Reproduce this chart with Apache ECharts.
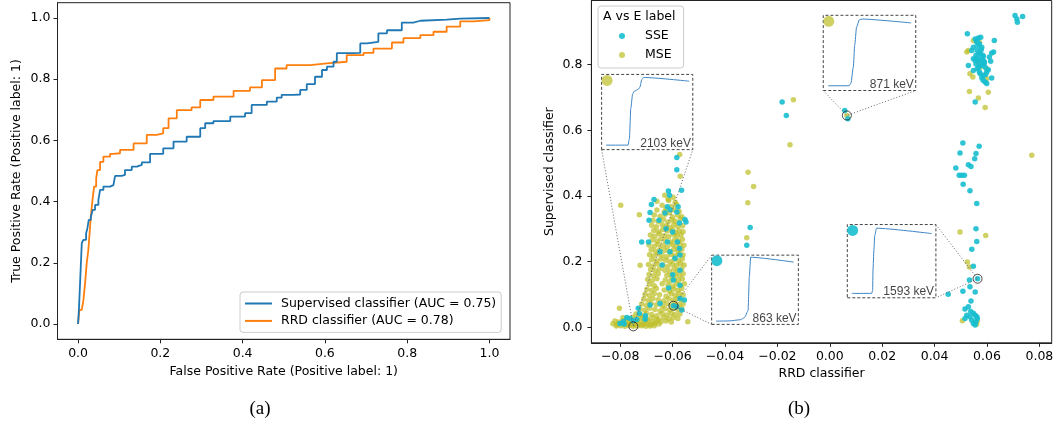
<!DOCTYPE html>
<html><head><meta charset="utf-8">
<script src="https://cdn.jsdelivr.net/npm/echarts@6/dist/echarts.min.js"></script>
<style>html,body{margin:0;padding:0;background:#fff}#c{width:1057px;height:425px}</style>
</head><body><div id="c"></div>
<script>
// ---------- (a) ROC curves: [false positive rate, true positive rate] ----------
const supervisedRoc = [[0,0],[0.0008,0.002],[0.0024,0.057],[0.004,0.06],[0.005,0.138],[0.007,0.14],[0.009,0.264],[0.013,0.275],[0.0195,0.296],[0.0227,0.313],[0.026,0.34],[0.031,0.35],[0.0357,0.373],[0.0413,0.389],[0.0494,0.405],[0.0535,0.438],[0.0616,0.449],[0.0778,0.454],[0.0859,0.46],[0.09,0.484],[0.106,0.487],[0.114,0.503],[0.1305,0.514],[0.143,0.52],[0.155,0.528],[0.175,0.556],[0.207,0.574],[0.232,0.596],[0.264,0.612],[0.297,0.640],[0.309,0.656],[0.329,0.663],[0.370,0.678],[0.406,0.689],[0.422,0.716],[0.459,0.727],[0.483,0.740],[0.495,0.749],[0.524,0.750],[0.540,0.765],[0.556,0.784],[0.576,0.808],[0.593,0.830],[0.605,0.841],[0.621,0.857],[0.629,0.885],[0.665,0.886],[0.686,0.917],[0.702,0.922],[0.730,0.950],[0.751,0.960],[0.787,0.985],[0.815,0.991],[0.832,0.995],[0.896,0.998],[0.929,1.0],[1.0,1.0]];
const rrdRoc = [[0,0],[0.0008,0.002],[0.0032,0.046],[0.009,0.05],[0.013,0.078],[0.017,0.133],[0.021,0.198],[0.025,0.242],[0.028,0.296],[0.031,0.351],[0.035,0.405],[0.039,0.449],[0.044,0.476],[0.047,0.503],[0.0535,0.530],[0.0616,0.547],[0.078,0.556],[0.086,0.558],[0.102,0.569],[0.135,0.590],[0.167,0.618],[0.191,0.623],[0.207,0.640],[0.220,0.672],[0.240,0.699],[0.276,0.708],[0.297,0.732],[0.329,0.743],[0.378,0.762],[0.418,0.773],[0.447,0.797],[0.479,0.835],[0.507,0.846],[0.564,0.852],[0.605,0.857],[0.653,0.879],[0.694,0.886],[0.718,0.900],[0.763,0.920],[0.791,0.934],[0.832,0.944],[0.864,0.955],[0.896,0.972],[0.929,0.989],[0.961,0.993],[1.0,1.0]];
const rocNames = ['Supervised classifier (AUC = 0.75)', 'RRD classifier (AUC = 0.78)'];
const rocTicks = [0, 0.2, 0.4, 0.6, 0.8, 1.0];

// ---------- (b) scatter: [RRD classifier, Supervised classifier] ----------
const mseEvents = [
[-0.0630,0.402],[-0.0598,0.396],[-0.0615,0.386],[-0.0590,0.381],[-0.0660,0.384],
[-0.0640,0.372],[-0.0605,0.368],[-0.0585,0.374],[-0.0625,0.362],
[-0.0660,0.357],[-0.0632,0.352],[-0.0612,0.349],[-0.0595,0.358],[-0.0575,0.353],
[-0.0670,0.342],[-0.0648,0.338],[-0.0628,0.344],[-0.0600,0.336],[-0.0580,0.341],[-0.0565,0.337],
[-0.0675,0.326],[-0.0655,0.322],[-0.0635,0.329],[-0.0618,0.320],[-0.0603,0.327],[-0.0590,0.323],[-0.0570,0.330],
[-0.0680,0.311],[-0.0662,0.306],[-0.0640,0.313],[-0.0625,0.308],[-0.0610,0.304],[-0.0595,0.312],[-0.0580,0.307],[-0.0562,0.309],
[-0.0672,0.295],[-0.0655,0.291],[-0.0638,0.298],[-0.0620,0.293],[-0.0600,0.297],[-0.0588,0.289],[-0.0575,0.294],[-0.0560,0.291],
[-0.0685,0.281],[-0.0668,0.277],[-0.0650,0.284],[-0.0632,0.279],[-0.0615,0.276],[-0.0597,0.283],[-0.0583,0.278],[-0.0568,0.282],
[-0.0678,0.266],[-0.0660,0.262],[-0.0645,0.269],[-0.0628,0.264],[-0.0608,0.260],[-0.0592,0.267],[-0.0578,0.263],[-0.0563,0.268],
[-0.0690,0.251],[-0.0670,0.247],[-0.0655,0.253],[-0.0636,0.249],[-0.0620,0.245],[-0.0602,0.252],[-0.0587,0.248],[-0.0572,0.254],[-0.0557,0.250],
[-0.0682,0.236],[-0.0665,0.232],[-0.0648,0.238],[-0.0630,0.234],[-0.0612,0.230],[-0.0596,0.237],[-0.0580,0.233],[-0.0565,0.238],
[-0.0688,0.221],[-0.0672,0.217],[-0.0656,0.223],[-0.0640,0.219],[-0.0622,0.215],[-0.0605,0.222],[-0.0590,0.218],[-0.0575,0.224],[-0.0560,0.220],
[-0.0680,0.206],[-0.0662,0.202],[-0.0645,0.208],[-0.0627,0.204],[-0.0610,0.200],[-0.0594,0.207],[-0.0578,0.203],[-0.0563,0.208],
[-0.0692,0.191],[-0.0674,0.187],[-0.0658,0.193],[-0.0637,0.189],[-0.0618,0.185],[-0.0600,0.192],[-0.0585,0.188],[-0.0570,0.194],[-0.0556,0.190],
[-0.0684,0.176],[-0.0667,0.172],[-0.0650,0.178],[-0.0630,0.174],[-0.0612,0.170],[-0.0595,0.177],[-0.0580,0.173],[-0.0565,0.178],
[-0.0690,0.161],[-0.0672,0.157],[-0.0655,0.163],[-0.0622,0.159],[-0.0605,0.155],[-0.0590,0.162],[-0.0575,0.158],[-0.0560,0.163],
[-0.0695,0.146],[-0.0678,0.142],[-0.0660,0.148],[-0.0628,0.144],[-0.0610,0.140],[-0.0593,0.147],[-0.0578,0.143],[-0.0563,0.148],
[-0.0688,0.131],[-0.0670,0.127],[-0.0640,0.133],[-0.0618,0.129],[-0.0600,0.125],[-0.0585,0.132],[-0.0570,0.128],[-0.0555,0.133],
[-0.0698,0.116],[-0.0680,0.112],[-0.0662,0.118],[-0.0632,0.114],[-0.0612,0.110],[-0.0596,0.117],[-0.0580,0.113],[-0.0565,0.118],
[-0.0705,0.101],[-0.0688,0.097],[-0.0670,0.103],[-0.0650,0.099],[-0.0625,0.095],[-0.0605,0.102],[-0.0590,0.098],[-0.0575,0.103],[-0.0560,0.099],
[-0.0710,0.086],[-0.0692,0.082],[-0.0675,0.088],[-0.0655,0.084],[-0.0635,0.080],[-0.0615,0.087],[-0.0598,0.083],[-0.0582,0.088],[-0.0567,0.084],
[-0.0718,0.071],[-0.0700,0.067],[-0.0682,0.073],[-0.0662,0.069],[-0.0640,0.065],[-0.0622,0.072],[-0.0605,0.068],[-0.0590,0.073],[-0.0575,0.069],[-0.0560,0.071],
[-0.0725,0.056],[-0.0706,0.052],[-0.0688,0.058],[-0.0668,0.054],[-0.0648,0.050],[-0.0630,0.057],[-0.0612,0.053],[-0.0596,0.058],[-0.0580,0.054],[-0.0565,0.057],
[-0.0740,0.041],[-0.0720,0.037],[-0.0700,0.043],[-0.0680,0.039],[-0.0660,0.035],[-0.0640,0.042],[-0.0622,0.038],[-0.0605,0.043],[-0.0590,0.039],[-0.0572,0.041],
[-0.0790,0.029],[-0.0770,0.026],[-0.0752,0.031],[-0.0735,0.027],[-0.0715,0.030],[-0.0695,0.026],[-0.0675,0.029],[-0.0655,0.025],[-0.0635,0.030],[-0.0615,0.026],[-0.0598,0.029],[-0.0580,0.027],
[-0.0820,0.019],[-0.0805,0.016],[-0.0788,0.020],[-0.0772,0.017],[-0.0756,0.019],[-0.0740,0.016],[-0.0724,0.020],[-0.0708,0.017],[-0.0692,0.019],[-0.0676,0.016],[-0.0660,0.020],[-0.0644,0.017],[-0.0625,0.019],[-0.0605,0.016],
[-0.0828,0.011],[-0.0812,0.009],[-0.0796,0.012],[-0.0780,0.010],[-0.0764,0.011],[-0.0748,0.008],[-0.0732,0.012],[-0.0716,0.009],[-0.0700,0.011],[-0.0684,0.008],[-0.0668,0.012],[-0.0652,0.010],
[-0.0815,0.004],[-0.0798,0.005],[-0.0782,0.003],[-0.0766,0.005],[-0.0750,0.003],[-0.0734,0.004],[-0.0718,0.005],[-0.0702,0.003],[-0.0686,0.004],[-0.0670,0.005],
[-0.0798,0.372],[-0.0727,0.343],[-0.0724,0.189],[-0.0803,0.058],[-0.0542,0.017],[-0.0573,0.526],[-0.0571,0.460],[-0.0617,0.390],
[-0.0139,0.693],[-0.0152,0.556],[-0.0312,0.472],[-0.0291,0.429],[-0.0313,0.379],[-0.0317,0.273],[0.0065,0.645],
[0.0548,0.873],[0.0529,0.843],[0.0523,0.838],[0.0571,0.868],[0.0567,0.807],[0.0574,0.792],[0.0599,0.787],[0.0535,0.772],[0.0546,0.762],[0.0599,0.757],[0.0605,0.716],[0.0567,0.698],[0.0593,0.669],[0.0533,0.718],
[0.0771,0.524],[0.0497,0.290],[0.0595,0.280],[0.0525,0.199],[0.0533,0.184],[0.0506,0.020],[0.0563,0.020],[0.0561,0.010]
];
const sseEvents = [
[-0.0616,0.415],[-0.0612,0.402],[-0.0671,0.389],[-0.0681,0.374],[-0.0620,0.367],[-0.0610,0.358],[-0.0579,0.367],[-0.0686,0.350],[-0.0690,0.326],[-0.0652,0.326],[-0.0629,0.348],[-0.0584,0.351],[-0.0553,0.328],[-0.0549,0.321],[-0.0574,0.318],[-0.0718,0.260],[-0.0692,0.260],[-0.0620,0.260],[-0.0610,0.230],[-0.0648,0.230],[-0.0582,0.260],[-0.0574,0.240],[-0.0572,0.220],[-0.0591,0.210],[-0.0572,0.174],[-0.0597,0.144],[-0.0572,0.128],[-0.0572,0.088],[-0.0555,0.083],[-0.0648,0.073],[-0.0686,0.068],[-0.0731,0.058],[-0.0727,0.042],[-0.0704,0.035],[-0.0737,0.024],[-0.0762,0.027],[-0.0801,0.012],[-0.0584,0.063],[-0.0565,0.053],
[-0.0584,0.517],[-0.0584,0.480],[-0.0566,0.417],[-0.0788,0.018],[-0.0775,0.030],[-0.0750,0.020],[-0.0705,0.025],[-0.0785,0.010],[-0.0625,0.300],[-0.0600,0.290],[-0.0640,0.190],[-0.0600,0.160],[-0.0615,0.120],[-0.0597,0.066],
[-0.0182,0.686],[-0.0166,0.645],[-0.0304,0.304],[-0.0317,0.250],[0.0057,0.660],[0.0069,0.635],
[0.0707,0.949],[0.0714,0.939],[0.0736,0.946],[0.0716,0.929],[0.0525,0.894],[0.0628,0.873],
[0.0555,0.878],[0.0567,0.881],[0.0576,0.883],[0.0561,0.868],[0.0571,0.863],[0.0548,0.853],[0.0580,0.853],[0.0563,0.843],[0.0542,0.843],[0.0574,0.833],[0.0558,0.828],[0.0586,0.825],[0.0618,0.835],[0.0625,0.838],[0.0609,0.823],[0.0548,0.818],[0.0567,0.812],[0.0586,0.812],[0.0614,0.810],[0.0558,0.802],[0.0529,0.797],[0.0580,0.797],[0.0593,0.792],[0.0563,0.787],[0.0548,0.782],[0.0599,0.777],[0.0574,0.772],[0.0586,0.767],[0.0580,0.760],[0.0618,0.759],[0.0593,0.747],[0.0599,0.742],[0.0571,0.777],[0.0561,0.873],[0.0555,0.812],[0.0574,0.818],[0.0589,0.804],[0.0605,0.784],[0.0555,0.686],
[0.0565,0.858],[0.0578,0.845],[0.0570,0.835],[0.0583,0.828],[0.0560,0.820],[0.0590,0.808],[0.0575,0.800],[0.0568,0.792],[0.0595,0.770],[0.0585,0.752],
[0.0508,0.561],[0.0570,0.551],[0.0497,0.531],[0.0558,0.529],[0.0553,0.513],[0.0481,0.485],[0.0529,0.495],[0.0539,0.490],[0.0494,0.463],[0.0504,0.463],[0.0514,0.463],[0.0509,0.436],[0.0535,0.416],[0.0561,0.377],[0.0558,0.300],[0.0561,0.261],[0.0542,0.238],[0.0548,0.186],[0.0533,0.144],[0.0508,0.110],[0.0535,0.124],[0.0555,0.108],[0.0452,0.101],[0.0539,0.080],[0.0516,0.056],[0.0529,0.063],[0.0538,0.048],[0.0523,0.037],[0.0548,0.043],[0.0555,0.037],[0.0561,0.032],[0.0516,0.027],[0.0542,0.022],[0.0558,0.017],[0.0548,0.012],[0.0535,0.032],[0.0555,0.007],[0.0563,0.027],[0.0564,0.148]
];
const classNames = ['SSE', 'MSE'];
const scatterXTicks = [-0.08, -0.06, -0.04, -0.02, 0, 0.02, 0.04, 0.06, 0.08];
const scatterYTicks = [0, 0.2, 0.4, 0.6, 0.8];

// ---------- insets: highlighted events and their waveforms ----------
const insetEvents = [[-0.0750, 0.003], [0.0065, 0.645], [-0.0597, 0.066], [0.0564, 0.148]];
const insetClasses = ['MSE', 'MSE', 'SSE', 'SSE'];
const insetLabels = ['2103 keV', '871 keV', '863 keV', '1593 keV'];
const waveTimes = [
  [5, 29, 30.5, 32, 34, 36, 40, 42, 44, 46, 96],
  [5.4, 28, 30, 32.5, 34, 36, 39, 42, 95],
  [5, 20, 33, 38, 42, 43.5, 45, 94.5],
  [5, 27.5, 28.6, 29, 30, 31, 33, 95]
];
const waveAmps = [
  [0.06, 0.06, 0.15, 0.55, 0.74, 0.78, 0.80, 0.83, 0.93, 0.96, 0.91],
  [0.063, 0.063, 0.10, 0.31, 0.60, 0.84, 0.94, 0.95, 0.898],
  [0.047, 0.05, 0.067, 0.10, 0.20, 0.70, 0.97, 0.90],
  [0.06, 0.06, 0.10, 0.38, 0.65, 0.85, 0.95, 0.877]
];
// layout of inset boxes in scatter-axis units [x0, x1, y0, y1]
const insetBoxes = [[-0.0871, -0.0523, 0.541, 0.770], [-0.0025, 0.0328, 0.721, 0.950], [-0.0451, -0.0120, 0.009, 0.2198], [0.00668, 0.0405, 0.090, 0.313]];
const insetLinks = [['bl', 'br'], ['bl', 'br'], ['tl', 'bl'], ['tr', 'br']];

const FONT = 'DejaVu Sans';
const TXT = { fontFamily: FONT, fontSize: 12.5, color: '#000' };
const COLORS = { SSE: '#17becf', MSE: '#bcbd22' };
const OPAC = { SSE: 0.9, MSE: 0.7 };

function fmtMinus(v) { return (v < -1e-9 ? '\u2212' : '') + Math.abs(v).toFixed(2); }

function axisCommon(extra) {
  return Object.assign({
    type: 'value', splitLine: { show: false },
    axisLine: { show: true, onZero: false, lineStyle: { color: '#222', width: 1 } },
    axisTick: { show: true, length: 4, lineStyle: { color: '#222' } },
    nameLocation: 'middle', nameTextStyle: TXT
  }, extra);
}

const chart = echarts.init(document.getElementById('c'), null, { renderer: 'canvas' });

const option = {
  animation: false,
  backgroundColor: '#fff',
  title: [
    { text: '(a)', left: 260, top: 400, textAlign: 'center', padding: 0, textStyle: { fontFamily: 'Liberation Serif', fontSize: 19, fontWeight: 'normal', color: '#000' } },
    { text: '(b)', left: 799, top: 400, textAlign: 'center', padding: 0, textStyle: { fontFamily: 'Liberation Serif', fontSize: 19, fontWeight: 'normal', color: '#000' } },
    { text: 'A vs E label', left: 603, top: 10, padding: 0, textStyle: { fontFamily: FONT, fontSize: 12.5, fontWeight: 'normal', color: '#000' } }
  ],
  legend: [
    { data: rocNames, orient: 'vertical', left: 240, top: 292, padding: [4, 5, 4, 5], itemGap: 2.4,
      icon: 'rect', itemWidth: 27, itemHeight: 2,
      textStyle: Object.assign({}, TXT, { lineHeight: 15, padding: [0, 0, 0, 4] }),
      borderColor: '#ccc', borderWidth: 1, borderRadius: 3, backgroundColor: 'rgba(255,255,255,0.85)' },
    { data: classNames, orient: 'vertical', left: 598, top: 6, padding: [22, 12, 5, 21], itemGap: 3,
      icon: 'circle', itemWidth: 6, itemHeight: 6,
      textStyle: Object.assign({}, TXT, { lineHeight: 16, padding: [0, 0, 0, 15] }),
      borderColor: '#ccc', borderWidth: 1, borderRadius: 3, backgroundColor: 'rgba(255,255,255,0.85)' }
  ],
  grid: [
    { left: 57.5, top: 2.7, width: 452.5, height: 336.6, show: true, borderColor: '#222', borderWidth: 1 },
    { left: 591.4, top: 0.5, width: 460.3, height: 342.3, show: true, borderColor: '#222', borderWidth: 1 }
  ],
  xAxis: [
    axisCommon({ gridIndex: 0, min: -0.05, max: 1.05, name: 'False Positive Rate (Positive label: 1)', nameGap: 25,
      axisTick: { show: true, length: 4, customValues: rocTicks, lineStyle: { color: '#222' } },
      axisLabel: Object.assign({ customValues: rocTicks, margin: 8, formatter: v => v.toFixed(1) }, TXT) }),
    axisCommon({ gridIndex: 1, min: -0.091, max: 0.0847, name: 'RRD classifier', nameGap: 24,
      axisTick: { show: true, length: 4, customValues: scatterXTicks, lineStyle: { color: '#222' } },
      axisLabel: Object.assign({ customValues: scatterXTicks, margin: 7, formatter: fmtMinus }, TXT) })
  ],
  yAxis: [
    axisCommon({ gridIndex: 0, min: -0.05, max: 1.05, name: 'True Positive Rate (Positive label: 1)', nameGap: 34,
      axisTick: { show: true, length: 4, customValues: rocTicks, lineStyle: { color: '#222' } },
      axisLabel: Object.assign({ customValues: rocTicks, margin: 7, formatter: v => v.toFixed(1) }, TXT) }),
    axisCommon({ gridIndex: 1, min: -0.047, max: 0.995, name: 'Supervised classifier', nameGap: 35,
      axisTick: { show: true, length: 4, customValues: scatterYTicks, lineStyle: { color: '#222' } },
      axisLabel: Object.assign({ customValues: scatterYTicks, margin: 9, formatter: v => v.toFixed(1) }, TXT) })
  ],
  series: [
    { name: rocNames[0], type: 'line', xAxisIndex: 0, yAxisIndex: 0, data: supervisedRoc, showSymbol: false, step: 'end',
      lineStyle: { color: '#1f77b4', width: 1.8 }, itemStyle: { color: '#1f77b4' }, z: 3 },
    { name: rocNames[1], type: 'line', xAxisIndex: 0, yAxisIndex: 0, data: rrdRoc, showSymbol: false, step: 'end',
      lineStyle: { color: '#ff7f0e', width: 1.8 }, itemStyle: { color: '#ff7f0e' }, z: 2 },
    { name: 'MSE', type: 'scatter', xAxisIndex: 1, yAxisIndex: 1, data: mseEvents, symbolSize: 5.5,
      itemStyle: { color: COLORS.MSE, opacity: OPAC.MSE }, z: 2 },
    { name: 'SSE', type: 'scatter', xAxisIndex: 1, yAxisIndex: 1, data: sseEvents, symbolSize: 5.5,
      itemStyle: { color: COLORS.SSE, opacity: OPAC.SSE }, z: 3 },
    { type: 'scatter', xAxisIndex: 1, yAxisIndex: 1, data: insetEvents, symbolSize: 9, silent: true,
      itemStyle: { color: 'rgba(0,0,0,0)', borderColor: '#222', borderWidth: 1 }, z: 6 }
  ]
};

function corner(b, c) {
  const x = c[1] === 'l' ? b[0] : b[1];
  const y = c[0] === 'b' ? b[2] : b[3];
  return [x, y];
}

insetBoxes.forEach((b, i) => {
  option.series.push({ type: 'line', xAxisIndex: 1, yAxisIndex: 1, silent: true, showSymbol: false, z: 5,
    data: [[b[0], b[2]], [b[1], b[2]], [b[1], b[3]], [b[0], b[3]], [b[0], b[2]]],
    lineStyle: { color: '#444', width: 1, type: [3, 2] } });
  option.series.push({ type: 'line', xAxisIndex: 1, yAxisIndex: 1, silent: true, showSymbol: false, z: 5,
    data: [corner(b, insetLinks[i][0]), insetEvents[i], corner(b, insetLinks[i][1])],
    lineStyle: { color: '#666', width: 1, type: [1, 2] } });
});

chart.setOption(option);

// place inset grids on the scatter axes
insetBoxes.forEach((b, i) => {
  const tl = chart.convertToPixel({ gridIndex: 1 }, [b[0], b[3]]);
  const br = chart.convertToPixel({ gridIndex: 1 }, [b[1], b[2]]);
  const gi = 2 + i;
  option.grid.push({ left: tl[0], top: tl[1], width: br[0] - tl[0], height: br[1] - tl[1], show: false });
  option.xAxis.push({ type: 'value', gridIndex: gi, min: 0, max: 100, show: false });
  option.yAxis.push({ type: 'value', gridIndex: gi, min: 0, max: 1, show: false });
  option.series.push({ type: 'line', xAxisIndex: gi, yAxisIndex: gi, silent: true, showSymbol: false,
    smooth: 0.2, smoothMonotone: 'x',
    data: waveTimes[i].map((t, k) => [t, waveAmps[i][k]]),
    lineStyle: { color: '#3d85c6', width: 1 }, z: 6 });
  const cls = insetClasses[i];
  option.series.push({ type: 'scatter', xAxisIndex: gi, yAxisIndex: gi, silent: true, symbolSize: 11,
    data: [[6, 0.92]], itemStyle: { color: COLORS[cls], opacity: OPAC[cls] }, z: 6 });
  option.series.push({ type: 'scatter', xAxisIndex: gi, yAxisIndex: gi, silent: true, symbolSize: 1,
    data: [[98.5, 0.08]], itemStyle: { color: 'rgba(0,0,0,0)' }, z: 7,
    label: { show: true, position: 'left', distance: 0, formatter: insetLabels[i],
      fontFamily: 'Liberation Sans', fontSize: 12, color: '#111' } });
});

chart.setOption(option, true);
</script>
</body></html>
